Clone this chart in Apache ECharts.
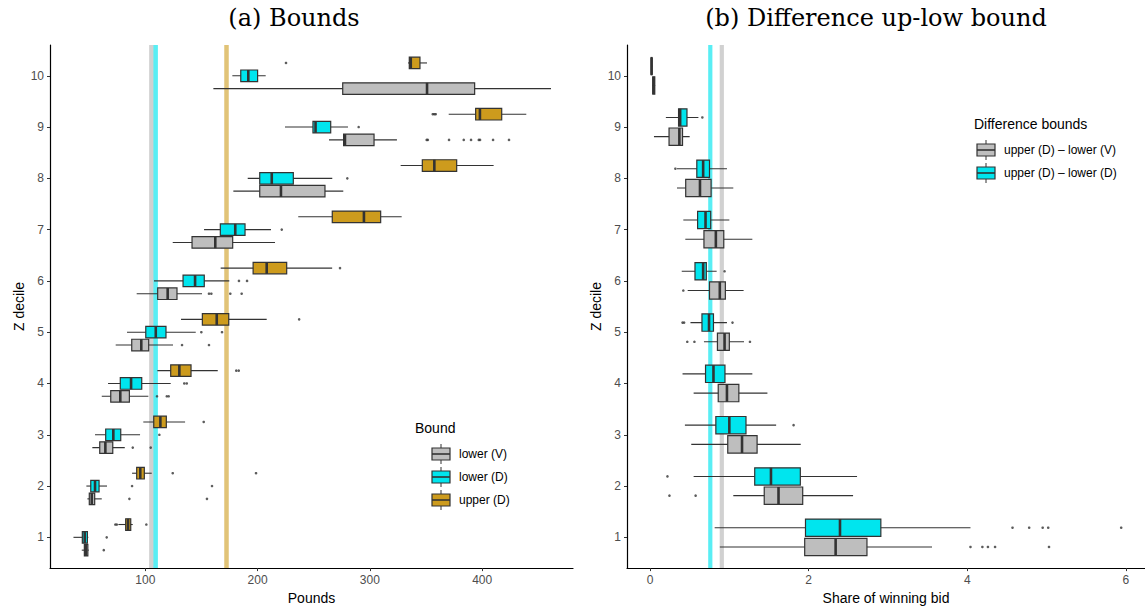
<!DOCTYPE html>
<html><head><meta charset="utf-8">
<script src="https://cdn.jsdelivr.net/npm/echarts@6/dist/echarts.min.js"></script>
<style>html,body{margin:0;padding:0;background:#fff}#c{width:1145px;height:610px}</style>
</head><body><div id="c"></div><script>
// ---------- data ----------
const deciles = [1, 2, 3, 4, 5, 6, 7, 8, 9, 10];
const yTicks = [1, 2, 3, 4, 5, 6, 7, 8, 9, 10];
const poundTicks = [100, 200, 300, 400];
const shareTicks = [0, 2, 4, 6];

// panel (a): [whisker low, Q1, median, Q3, whisker high] per decile 1..10
const lowerV = [
  [43.4, 45.7, 47.0, 48.8, 49.6],
  [48.4, 50.1, 52.3, 54.9, 61.2],
  [52.8, 59.4, 64.4, 71.0, 81.7],
  [61.2, 69.2, 77.7, 85.8, 102.7],
  [73.6, 87.9, 96.4, 103.0, 124.7],
  [92.3, 111.0, 119.9, 128.2, 150.5],
  [124.4, 141.6, 162.3, 177.8, 215.5],
  [178.4, 201.9, 220.8, 260.0, 276.3],
  [263.6, 276.6, 277.8, 303.7, 324.1],
  [160.6, 275.8, 350.9, 393.3, 461.3]
];
const lowerD = [
  [36.0, 43.9, 46.0, 48.4, 49.2],
  [47.5, 51.4, 55.2, 58.8, 65.9],
  [55.2, 64.7, 71.5, 78.1, 95.3],
  [66.8, 77.7, 87.3, 96.8, 122.6],
  [83.7, 100.4, 109.3, 118.4, 144.9],
  [107.7, 133.6, 144.3, 152.5, 174.8],
  [152.3, 166.8, 180.1, 188.8, 211.9],
  [191.2, 201.9, 212.6, 231.8, 266.5],
  [224.4, 249.3, 251.6, 265.1, 280.5],
  [177.5, 185.0, 191.7, 200.0, 207.2]
];
const upperD = [
  [76.0, 82.5, 84.6, 87.0, 88.8],
  [88.2, 92.3, 95.5, 99.1, 105.7],
  [98.2, 107.5, 113.4, 118.7, 135.4],
  [110.7, 122.6, 130.3, 140.7, 164.5],
  [131.8, 150.8, 163.6, 174.3, 208.1],
  [167.1, 196.0, 208.1, 225.9, 266.4],
  [236.2, 266.5, 294.7, 309.6, 328.3],
  [327.4, 346.7, 357.4, 377.3, 410.2],
  [370.2, 394.2, 398.0, 417.4, 439.3],
  [334.0, 335.1, 336.4, 344.6, 350.9]
];
// outliers: [decile, value]
const lowerVOut = [[1, 63.0], [2, 85.8], [2, 154.9], [3, 88.8], [3, 104.8], [4, 110.4], [4, 119.1], [4, 120.8],
  [5, 132.7], [5, 156.7], [6, 156.7], [6, 158.8], [6, 175.7], [6, 185.8],
  [9, 350.6], [9, 351.6], [9, 370.5], [9, 383.6], [9, 390.1], [9, 397.0], [9, 398.1], [9, 409.7], [9, 423.9]];
const lowerDOut = [[1, 65.6], [2, 88.2], [2, 159.4], [3, 112.5], [4, 134.7], [4, 136.9], [5, 149.9], [5, 168.3],
  [6, 183.4], [6, 190.6], [7, 221.5], [8, 279.9], [9, 290.0]];
const upperDOut = [[1, 73.3], [1, 74.6], [1, 100.9], [2, 124.4], [2, 198.6], [3, 152.0], [4, 181.0], [4, 183.2],
  [5, 237.0], [6, 273.4], [9, 356.0], [9, 357.4], [9, 358.6], [10, 225.3]];
// mean reference lines (Pounds)
const refLowerV = 105.4, refLowerD = 109.2, refUpperD = 172.3;

// panel (b): share of winning bid
const diffV = [
  [0.88, 1.95, 2.34, 2.735, 3.555],
  [1.05, 1.44, 1.62, 1.925, 2.56],
  [0.52, 0.98, 1.16, 1.35, 1.90],
  [0.55, 0.86, 0.97, 1.12, 1.48],
  [0.68, 0.85, 0.94, 1.00, 1.185],
  [0.475, 0.75, 0.88, 0.95, 1.18],
  [0.445, 0.68, 0.83, 0.93, 1.29],
  [0.34, 0.45, 0.63, 0.77, 1.05],
  [0.05, 0.24, 0.37, 0.41, 0.50],
  [0.03, 0.035, 0.045, 0.06, 0.065]
];
const diffD = [
  [0.815, 1.96, 2.395, 2.91, 4.04],
  [0.55, 1.32, 1.525, 1.895, 2.61],
  [0.44, 0.83, 1.00, 1.21, 1.59],
  [0.41, 0.70, 0.80, 0.945, 1.29],
  [0.51, 0.655, 0.744, 0.80, 0.97],
  [0.40, 0.567, 0.67, 0.71, 0.84],
  [0.42, 0.60, 0.70, 0.765, 1.0],
  [0.34, 0.59, 0.67, 0.75, 0.97],
  [0.20, 0.36, 0.38, 0.466, 0.61],
  [0.012, 0.015, 0.02, 0.025, 0.03]
];
const diffVOut = [[1, 4.04], [1, 4.19], [1, 4.26], [1, 4.35], [1, 5.03], [2, 0.245], [2, 0.575],
  [5, 0.47], [5, 0.56], [5, 1.26], [6, 0.42]];
const diffDOut = [[1, 4.57], [1, 4.78], [1, 4.95], [1, 5.02], [1, 5.94], [2, 0.22], [3, 1.81],
  [5, 0.41], [5, 0.43], [5, 1.04], [6, 0.94], [8, 0.32], [9, 0.66]];
const refDiffD = 0.76, refDiffV = 0.905;

// ---------- styling ----------
const SANS = '"Liberation Sans", Arial, sans-serif';
const SERIF = '"DejaVu Serif", serif';
const C_GREY = '#BEBEBE', C_CYAN = '#00E5EE', C_GOLD = '#CD9B1D', C_LINE = '#333333';

function boxRenderer(offset, height, fill) {
  return function (params, api) {
    const y = api.value(0) + offset;
    const a = api.coord([api.value(1), y]);
    const q1 = api.coord([api.value(2), y]);
    const m = api.coord([api.value(3), y]);
    const q3 = api.coord([api.value(4), y]);
    const b = api.coord([api.value(5), y]);
    const h = api.size([0, height])[1];
    const cy = m[1];
    return {
      type: 'group', children: [
        { type: 'line', shape: { x1: a[0], y1: cy, x2: b[0], y2: cy }, style: { stroke: C_LINE, lineWidth: 1.1 } },
        { type: 'rect', shape: { x: q1[0], y: cy - h / 2, width: Math.max(q3[0] - q1[0], 0.6), height: h },
          style: { fill: fill, stroke: C_LINE, lineWidth: 1.2 } },
        { type: 'line', shape: { x1: m[0], y1: cy - h / 2, x2: m[0], y2: cy + h / 2 }, style: { stroke: C_LINE, lineWidth: 2.6 } }
      ]
    };
  };
}
function boxSeries(idx, arr, offset, height, fill) {
  return {
    type: 'custom', xAxisIndex: idx, yAxisIndex: idx, z: 3,
    renderItem: boxRenderer(offset, height, fill),
    encode: { x: [1, 2, 3, 4, 5], y: 0 },
    data: deciles.map((d, i) => [d].concat(arr[i]))
  };
}
function outSeries(idx, arr, offset) {
  return {
    type: 'scatter', xAxisIndex: idx, yAxisIndex: idx, z: 4, symbol: 'circle', symbolSize: 2.6,
    itemStyle: { color: C_LINE }, silent: true,
    data: arr.map(p => [p[1], p[0] + offset])
  };
}
function refSeries(idx, value, color, width) {
  return {
    type: 'custom', xAxisIndex: idx, yAxisIndex: idx, z: 1, silent: true,
    data: [[value]], encode: { x: 0 },
    renderItem: function (params, api) {
      const p = api.coord([api.value(0), 5]);
      const cs = params.coordSys;
      return { type: 'line', shape: { x1: p[0], y1: cs.y, x2: p[0], y2: cs.y + cs.height },
        style: { stroke: color, lineWidth: width } };
    }
  };
}
function xAxisCfg(idx, min, max, ticks, name) {
  return {
    type: 'value', gridIndex: idx, min: min, max: max,
    axisLine: { onZero: false, lineStyle: { color: '#000', width: 1.2 } },
    axisTick: { show: true, customValues: ticks, length: 3, lineStyle: { color: '#333' } },
    axisLabel: { customValues: ticks, color: '#4D4D4D', fontSize: 12, margin: 6, fontFamily: SANS },
    splitLine: { show: false },
    name: name, nameLocation: 'middle', nameGap: 20,
    nameTextStyle: { color: '#000', fontSize: 14, fontFamily: SANS }
  };
}
function yAxisCfg(idx) {
  return {
    type: 'value', gridIndex: idx, min: 0.4, max: 10.6,
    axisLine: { show: true, onZero: false, lineStyle: { color: '#000', width: 1.2 } },
    axisTick: { show: true, customValues: yTicks, length: 3, lineStyle: { color: '#333' } },
    axisLabel: { customValues: yTicks, color: '#4D4D4D', fontSize: 12, margin: 6, fontFamily: SANS },
    splitLine: { show: false },
    name: 'Z decile', nameLocation: 'middle', nameGap: 24,
    nameTextStyle: { color: '#000', fontSize: 14, fontFamily: SANS }
  };
}
function legendKey(x, y, fill) {
  return [
    { type: 'line', shape: { x1: x + 9, y1: y - 10, x2: x + 9, y2: y + 10 }, style: { stroke: C_LINE, lineWidth: 1 } },
    { type: 'rect', shape: { x: x, y: y - 6, width: 18, height: 12 }, style: { fill: fill, stroke: C_LINE, lineWidth: 1.2 } },
    { type: 'line', shape: { x1: x, y1: y, x2: x + 18, y2: y }, style: { stroke: C_LINE, lineWidth: 1.6 } }
  ];
}
function legendText(x, y, t, size) {
  return { type: 'text', x: x, y: y, style: { text: t, fill: '#000', font: size + 'px ' + SANS, textAlign: 'left', textVerticalAlign: 'middle' } };
}

const graphics = [
  { type: 'text', x: 294, y: 18, style: { text: '(a) Bounds', fill: '#000', font: '24px ' + SERIF, textAlign: 'center', textVerticalAlign: 'middle' } },
  { type: 'text', x: 876, y: 18, style: { text: '(b) Difference up-low bound', fill: '#000', font: '24px ' + SERIF, textAlign: 'center', textVerticalAlign: 'middle' } },
  legendText(415, 428, 'Bound', 14),
  ...legendKey(432, 454, C_GREY), legendText(459, 454, 'lower (V)', 12),
  ...legendKey(432, 477, C_CYAN), legendText(459, 477, 'lower (D)', 12),
  ...legendKey(432, 500, C_GOLD), legendText(459, 500, 'upper (D)', 12),
  legendText(974, 124, 'Difference bounds', 14),
  ...legendKey(977, 150, C_GREY), legendText(1004, 150, 'upper (D) \u2013 lower (V)', 12),
  ...legendKey(977, 173, C_CYAN), legendText(1004, 173, 'upper (D) \u2013 lower (D)', 12)
];

const option = {
  animation: false,
  backgroundColor: '#fff',
  grid: [
    { left: 50, right: 572, top: 45, bottom: 39 },
    { left: 627, right: 0, top: 45, bottom: 39 }
  ],
  xAxis: [xAxisCfg(0, 15.1, 480.9, poundTicks, 'Pounds'), xAxisCfg(1, -0.29, 6.24, shareTicks, 'Share of winning bid')],
  yAxis: [yAxisCfg(0), yAxisCfg(1)],
  series: [
    refSeries(0, refLowerV, 'rgba(190,190,190,0.7)', 4.5),
    refSeries(0, refLowerD, 'rgba(0,229,238,0.65)', 4.5),
    refSeries(0, refUpperD, 'rgba(205,155,29,0.6)', 4.5),
    boxSeries(0, lowerV, -0.25, 0.225, C_GREY),
    boxSeries(0, lowerD, 0, 0.225, C_CYAN),
    boxSeries(0, upperD, 0.25, 0.225, C_GOLD),
    outSeries(0, lowerVOut, -0.25),
    outSeries(0, lowerDOut, 0),
    outSeries(0, upperDOut, 0.25),
    refSeries(1, refDiffD, 'rgba(0,229,238,0.65)', 4.2),
    refSeries(1, refDiffV, 'rgba(190,190,190,0.7)', 4.2),
    boxSeries(1, diffD, 0.1875, 0.3375, C_CYAN),
    boxSeries(1, diffV, -0.1875, 0.3375, C_GREY),
    outSeries(1, diffDOut, 0.1875),
    outSeries(1, diffVOut, -0.1875)
  ],
  graphic: graphics
};
const chart = echarts.init(document.getElementById('c'), null, { renderer: 'svg' });
chart.setOption(option);
</script></body></html>
